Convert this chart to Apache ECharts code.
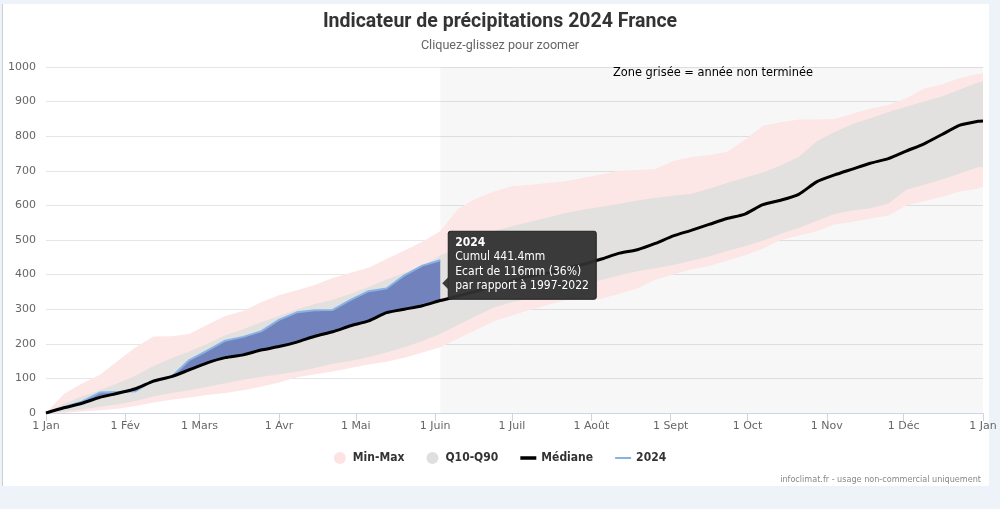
<!DOCTYPE html>
<html><head><meta charset="utf-8">
<script src="https://cdn.jsdelivr.net/npm/echarts@6/dist/echarts.min.js"></script>
<style>
html,body{margin:0;padding:0;background:#eef3f9;overflow:hidden;}
#card{position:absolute;left:2px;top:4px;width:986px;height:482px;background:#fff;border-left:1px solid #cfcfcf;}
#chart{position:absolute;left:0;top:0;width:1000px;height:509px;}
</style></head><body><div id="card"></div><div id="chart"></div>
<script>
// day-of-year sampling grid (0 = 1 Jan 2024)
const days = [0,7,14,21,28,35,42,49,56,63,70,77,84,91,98,105,112,119,126,133,140,147,154,161,168,175,182,189,196,203,210,217,224,231,238,245,252,259,266,273,280,287,294,301,308,315,322,329,336,343,350,357,364,366];
const monthTicks = [0,31,60,91,121,152,182,213,244,274,305,335,366];
const monthLabels = ['1 Jan','1 Fév','1 Mars','1 Avr','1 Mai','1 Juin','1 Juil','1 Août','1 Sept','1 Oct','1 Nov','1 Déc','1 Jan'];

const minVals = [0,0,4,8,12,20,30,38,45,52,58,66,76,88,103,112,120,130,140,148,160,175,190,215,240,265,282,298,312,326,330,330,345,360,385,400,415,425,440,455,475,500,512,525,545,552,562,570,600,612,625,640,648,654];
const maxVals = [0,55,85,110,150,190,221,222,228,255,280,295,320,340,355,370,390,405,420,445,470,495,525,590,620,640,655,660,665,670,680,690,700,702,705,728,740,745,755,790,830,840,848,848,850,865,880,890,910,938,950,968,980,983];
const q10Vals = [0,4,10,18,25,35,48,58,66,76,86,96,104,112,119,130,142,150,162,175,190,208,228,255,280,305,320,332,345,358,372,385,398,410,418,428,440,452,468,482,498,518,535,555,575,585,592,605,645,660,675,692,710,712];
const q90Vals = [0,27,48,66,86,108,136,158,178,200,225,242,262,280,300,315,327,345,364,386,405,425,455,480,505,525,540,552,565,578,588,596,605,614,622,628,634,648,665,680,695,715,740,785,812,835,852,870,885,900,915,935,955,958];
const medVals = [0,15,28,45,57,70,92,105,125,145,160,168,182,192,205,222,235,252,266,290,300,310,325,338,352,366,382,395,405,418,430,445,462,472,490,512,528,545,562,575,602,615,632,668,688,705,722,735,757,778,805,832,843,844];
const v2024 = [0,17,33,59,61,63,95,104,153,180,209,220,236,269,291,297,298,327,352,360,398,426,441.4];

const pairs = (arr) => arr.map((v, i) => [days[i], v]);
const n24 = v2024.length;
const lastDay = days[n24 - 1];
const lastVal = v2024[n24 - 1];
const medAtLast = medVals[n24 - 1];
const med24 = medVals.slice(0, n24);
const upper24 = v2024.map((v, i) => Math.max(v, med24[i]));
const lower24 = v2024.map((v, i) => Math.min(v, med24[i]));

const FONT = 'DejaVu Sans';

// filled band between two value arrays, drawn through the cartesian scales
function band(name, lo, hi, color, z) {
  return {
    type: 'custom', name: name, z: z, silent: true, coordinateSystem: 'cartesian2d',
    itemStyle: {color: color},
    encode: {x: 0, y: [1, 2]},
    data: lo.map((v, i) => [days[i], v, hi[i]]),
    renderItem: function (params, api) {
      if (params.dataIndex !== 0) return null;
      const top = hi.map((v, i) => api.coord([days[i], v]));
      const bot = lo.map((v, i) => api.coord([days[i], v])).reverse();
      return {type: 'polygon', shape: {points: top.concat(bot)}, style: {fill: color}};
    }
  };
}

const chart = echarts.init(document.getElementById('chart'), null, {renderer: 'canvas'});
const option = {
  backgroundColor: 'transparent',
  animation: false,
  title: {
    text: 'Indicateur de précipitations 2024 France',
    subtext: 'Cliquez-glissez pour zoomer',
    left: 'center', top: 7, itemGap: 7,
    textStyle: {fontFamily: 'Roboto', fontWeight: 'bold', fontSize: 19.5, color: '#333'},
    subtextStyle: {fontFamily: 'Roboto', fontSize: 12.6, color: '#666'}
  },
  grid: {left: 46, right: 17, top: 67, bottom: 96, containLabel: false},
  legend: {
    bottom: 40, left: 'center', itemGap: 22, itemWidth: 16, itemHeight: 12, symbolKeepAspect: true,
    textStyle: {fontFamily: 'DejaVu Sans Condensed', fontWeight: 'bold', fontSize: 12, color: '#333'},
    data: [
      {name: 'Min-Max', icon: 'circle', itemStyle: {color: '#fde3e3'}},
      {name: 'Q10-Q90', icon: 'circle', itemStyle: {color: '#e1dfdd'}},
      {name: 'Médiane', icon: 'path://M0,0h16v3.5h-16z', itemStyle: {color: '#000'}},
      {name: '2024', icon: 'path://M0,0h16v2h-16z', itemStyle: {color: '#86b3e4'}}
    ]
  },
  xAxis: {
    type: 'value', min: 0, max: 366,
    axisLine: {lineStyle: {color: '#ccd6eb'}},
    axisTick: {customValues: monthTicks, length: 8, lineStyle: {color: '#ccd6eb'}},
    axisLabel: {customValues: monthTicks, formatter: (v) => monthLabels[monthTicks.indexOf(v)], color: '#666', fontFamily: FONT, fontSize: 11, margin: 8},
    splitLine: {show: false}
  },
  yAxis: {
    type: 'value', min: 0, max: 1000, interval: 100,
    axisLine: {show: false}, axisTick: {show: false},
    axisLabel: {color: '#666', fontFamily: FONT, fontSize: 11, margin: 10, formatter: (v) => String(v)},
    splitLine: {lineStyle: {color: '#e6e6e6'}}
  },
  series: [
    {type: 'line', name: 'zone', data: pairs(minVals), z: 0, silent: true, symbol: 'none', showSymbol: false,
      lineStyle: {opacity: 0},
      markArea: {silent: true, itemStyle: {color: 'rgba(0,0,0,0.032)'}, data: [[{xAxis: lastDay}, {xAxis: 366}]]}},
    band('Min-Max', minVals, maxVals, '#fde6e6', 1),
    band('Q10-Q90', q10Vals, q90Vals, '#e3e1df', 2),
    band('ecart+', med24, upper24, '#7282bd', 3),
    band('ecart-', lower24, med24, '#9a5a3a', 3),
    {type: 'line', name: '2024', data: pairs(v2024), z: 5, showSymbol: false, symbol: 'none',
      itemStyle: {color: '#86b3e4'}, lineStyle: {color: '#86b3e4', width: 2}},
    {type: 'line', name: 'Médiane', data: pairs(medVals), z: 6, showSymbol: false, symbol: 'none', smooth: 0.2,
      itemStyle: {color: '#000'}, lineStyle: {color: '#000', width: 3}}
  ]
};
chart.setOption(option);

const p = chart.convertToPixel({gridIndex: 0}, [lastDay, lastVal]);
const ecart = Math.round(lastVal - medAtLast);
const pct = Math.round(100 * (lastVal - medAtLast) / medAtLast);
const bx = p[0] + 8, by = p[1] - 29, bw = 148, bh = 68;
chart.setOption({
  graphic: [
    {type: 'text', z: 100, left: 613, top: 68, style: {text: 'Zone grisée = année non terminée', font: '11.4px "DejaVu Sans"', fill: '#000'}},
    {type: 'group', z: 100, children: [
      {type: 'rect', z: 100, shape: {x: bx, y: by, width: bw, height: bh, r: 2}, style: {fill: 'rgba(48,48,48,0.95)', stroke: '#222', lineWidth: 1}},
      {type: 'polygon', z: 100, shape: {points: [[bx, by + 46], [bx - 6, by + 52], [bx, by + 58]]}, style: {fill: 'rgba(48,48,48,0.95)'}},
      {type: 'text', z: 101, x: bx + 7, y: by + 4, style: {
        text: '{b|2024}\nCumul ' + lastVal.toFixed(1) + 'mm\nEcart de ' + ecart + 'mm (' + pct + '%)\npar rapport à 1997-2022',
        fill: '#fff', font: '12px "DejaVu Sans Condensed"', lineHeight: 14.5,
        rich: {b: {fontWeight: 'bold', fill: '#fff', fontFamily: 'DejaVu Sans Condensed', fontSize: 12, lineHeight: 14.5}}
      }}
    ]},
    {type: 'text', z: 100, right: 19, top: 475, style: {text: 'infoclimat.fr - usage non-commercial uniquement', font: '9px "DejaVu Sans Condensed"', fill: '#888'}}
  ]
});
</script></body></html>
